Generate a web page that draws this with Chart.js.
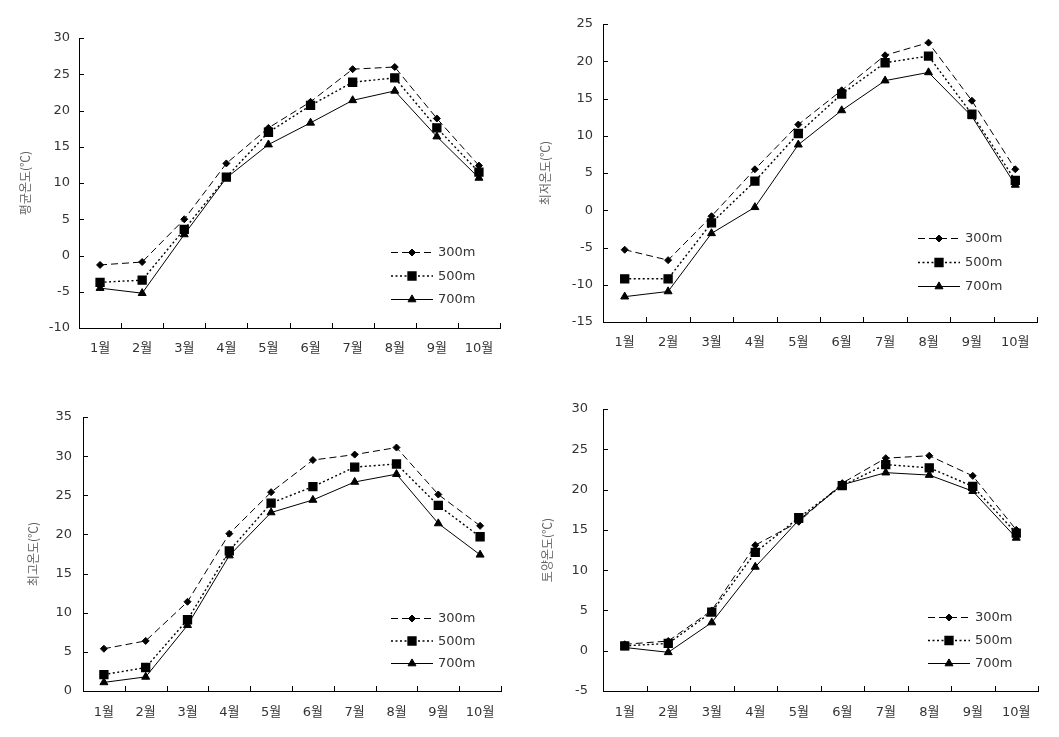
<!DOCTYPE html>
<html>
<head>
<meta charset="utf-8">
<script src="https://cdn.jsdelivr.net/npm/chart.js@4.4.1/dist/chart.umd.min.js"></script>
<style>
  body { margin: 0; background: #fff; width: 1059px; height: 737px; position: relative; overflow: hidden; }
  .box { position: absolute; }
</style>
</head>
<body>
<div class="box" style="left:0;top:0"><canvas id="c1" width="520" height="365"></canvas></div>
<div class="box" style="left:530px;top:0"><canvas id="c2" width="529" height="365"></canvas></div>
<div class="box" style="left:0;top:370px"><canvas id="c3" width="520" height="367"></canvas></div>
<div class="box" style="left:530px;top:370px"><canvas id="c4" width="529" height="367"></canvas></div>
<script>
// categories and series names
const months = ['1월', '2월', '3월', '4월', '5월', '6월', '7월', '8월', '9월', '10월'];
const seriesNames = ['300m', '500m', '700m'];

// 평균온도 (mean temperature)
const avg300 = [-1.3, -0.9, 5.0, 12.7, 17.6, 21.2, 25.7, 26.0, 18.9, 12.4];
const avg500 = [-3.7, -3.4, 3.6, 10.8, 17.0, 20.7, 23.9, 24.5, 17.6, 11.5];
const avg700 = [-4.5, -5.2, 2.9, 10.7, 15.3, 18.3, 21.4, 22.7, 16.4, 10.7];

// 최저온도 (minimum temperature)
const min300 = [-5.3, -6.7, -0.8, 5.5, 11.5, 16.1, 20.8, 22.5, 14.7, 5.5];
const min500 = [-9.2, -9.2, -1.7, 3.9, 10.3, 15.6, 19.8, 20.7, 12.9, 4.0];
const min700 = [-11.6, -10.9, -3.1, 0.4, 8.8, 13.4, 17.4, 18.5, 12.6, 3.4];

// 최고온도 (maximum temperature)
const max300 = [5.4, 6.4, 11.4, 20.1, 25.4, 29.5, 30.2, 31.1, 25.1, 21.1];
const max500 = [2.1, 3.0, 9.1, 17.9, 24.0, 26.1, 28.6, 29.0, 23.7, 19.7];
const max700 = [1.1, 1.8, 8.4, 17.3, 22.8, 24.4, 26.7, 27.7, 21.4, 17.4];

// 토양온도 (soil temperature)
const soil300 = [0.8, 1.2, 5.0, 13.1, 16.0, 20.8, 23.9, 24.2, 21.7, 15.0];
const soil500 = [0.6, 0.9, 4.8, 12.2, 16.5, 20.5, 23.1, 22.7, 20.4, 14.6];
const soil700 = [0.4, -0.2, 3.5, 10.4, 16.2, 20.6, 22.1, 21.8, 19.8, 14.0];

const tickFont = { family: '"DejaVu Sans", "Noto Sans CJK KR", sans-serif', size: 13 };

// small inward tick marks on both axes
const inwardTicks = {
  id: 'inwardTicks',
  afterDraw(chart) {
    const { ctx, scales: { x, y } } = chart;
    const len = 5;
    ctx.save();
    ctx.strokeStyle = '#000';
    ctx.lineWidth = 1;
    ctx.beginPath();
    for (let i = 0; i <= chart.data.labels.length; i++) {
      const px = Math.round(x.getPixelForValue(i - 0.5)) + 0.5;
      ctx.moveTo(px, y.bottom);
      ctx.lineTo(px, y.bottom - len);
    }
    y.ticks.forEach(t => {
      const py = Math.round(y.getPixelForValue(t.value)) + 0.5;
      ctx.moveTo(x.left, py);
      ctx.lineTo(x.left + len, py);
    });
    ctx.stroke();
    ctx.restore();
  }
};

// legend drawn inside the plot: line sample with marker, then the label
const innerLegend = {
  id: 'innerLegend',
  afterDraw(chart, args, opts) {
    const { ctx, chartArea } = chart;
    const x0 = chartArea.left + opts.dx;
    let y0 = chartArea.top + opts.dy;
    ctx.save();
    chart.data.datasets.forEach(ds => {
      ctx.strokeStyle = '#000';
      ctx.fillStyle = '#000';
      ctx.lineWidth = ds.borderWidth;
      ctx.setLineDash(ds.borderDash || []);
      ctx.beginPath();
      ctx.moveTo(x0, y0 + 0.5);
      ctx.lineTo(x0 + 42, y0 + 0.5);
      ctx.stroke();
      ctx.setLineDash([]);
      Chart.helpers.drawPoint(ctx, { pointStyle: ds.pointStyle, radius: ds.pointRadius, rotation: 0, borderWidth: 1 }, x0 + 21, y0 + 0.5);
      ctx.font = '13px "DejaVu Sans", sans-serif';
      ctx.fillStyle = '#333';
      ctx.textBaseline = 'middle';
      ctx.fillText(ds.label, x0 + 47, y0 + 1);
      y0 += opts.gap;
    });
    ctx.restore();
  }
};

function makeDatasets(a, b, c) {
  return [
    { label: seriesNames[0], data: a, borderColor: '#000', backgroundColor: '#000', borderWidth: 1,
      borderDash: [7, 4], pointStyle: 'rectRot', pointRadius: 3.5 },
    { label: seriesNames[1], data: b, borderColor: '#000', backgroundColor: '#000', borderWidth: 1.4,
      borderDash: [2, 2.5], pointStyle: 'rect', pointRadius: 5.6 },
    { label: seriesNames[2], data: c, borderColor: '#000', backgroundColor: '#000', borderWidth: 1,
      pointStyle: 'triangle', pointRadius: 4.6 }
  ];
}

function makeChart(id, title, series, yMin, yMax, p) {
  const canvas = document.getElementById(id);
  return new Chart(canvas, {
    type: 'line',
    data: { labels: months, datasets: makeDatasets(series[0], series[1], series[2]) },
    options: {
      responsive: false,
      animation: false,
      devicePixelRatio: 1,
      layout: { padding: { top: p.top, right: p.right, left: 0, bottom: 0 } },
      plugins: {
        legend: { display: false },
        tooltip: { enabled: false },
        innerLegend: { dx: p.legX, dy: p.legY, gap: p.legGap }
      },
      elements: { line: { tension: 0 }, point: { borderWidth: 1, hoverRadius: 0 } },
      scales: {
        x: {
          offset: true,
          grid: { display: true, drawOnChartArea: false, drawTicks: false, offset: true },
          border: { color: '#000', width: 1 },
          ticks: { font: tickFont, color: '#333', padding: p.xPad, maxRotation: 0, autoSkip: false },
          afterFit: s => { s.height = canvas.height - p.bottom; }
        },
        y: {
          min: yMin,
          max: yMax,
          grid: { display: true, drawOnChartArea: false, drawTicks: false },
          border: { color: '#000', width: 1 },
          ticks: { stepSize: 5, font: tickFont, color: '#333', padding: p.yPad },
          title: { display: true, text: title, color: '#666',
            font: { family: '"Noto Sans CJK KR", sans-serif', size: 12 }, padding: { top: p.titlePad } },
          afterFit: s => { s.width = p.left; }
        }
      }
    },
    plugins: [inwardTicks, innerLegend]
  });
}

makeChart('c1', '평균온도(℃)', [avg300, avg500, avg700], -10, 30,
  { top: 38, right: 20, left: 79, bottom: 328, xPad: 13, yPad: 9, titlePad: 18, legX: 312, legY: 214, legGap: 23.5 });
makeChart('c2', '최저온도(℃)', [min300, min500, min700], -15, 25,
  { top: 24, right: 22, left: 73, bottom: 322, xPad: 13, yPad: 10, titlePad: 8, legX: 315, legY: 214, legGap: 24 });
makeChart('c3', '최고온도(℃)', [max300, max500, max700], 0, 35,
  { top: 47, right: 19, left: 83, bottom: 321, xPad: 14, yPad: 11, titlePad: 26, legX: 308, legY: 201, legGap: 22.5 });
makeChart('c4', '토양온도(℃)', [soil300, soil500, soil700], -5, 30,
  { top: 39, right: 21, left: 73, bottom: 321, xPad: 14, yPad: 15, titlePad: 10, legX: 325, legY: 208, legGap: 23 });
</script>
</body>
</html>
